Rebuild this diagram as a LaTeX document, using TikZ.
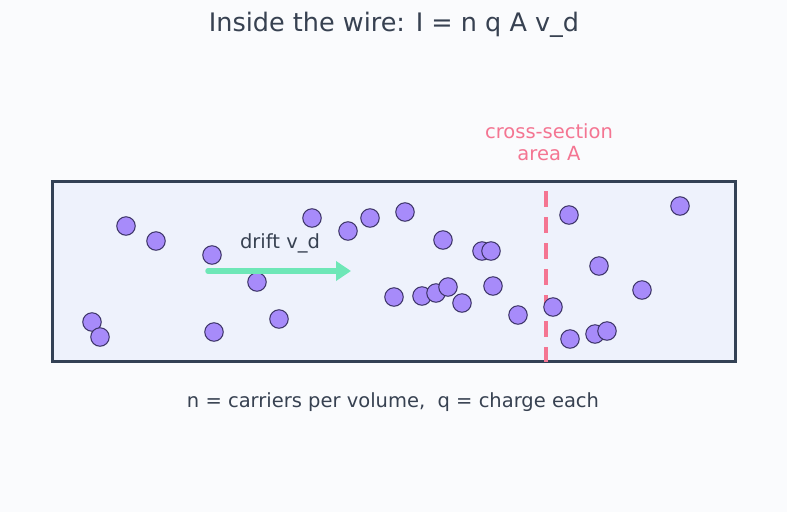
\documentclass[tikz,border=0pt]{standalone}
\usepackage{fontspec}
\setmainfont{DejaVu Sans}
\usetikzlibrary{arrows.meta}
\definecolor{bgcol}{HTML}{FAFBFD}
\definecolor{wirefill}{HTML}{EEF2FC}
\definecolor{wireline}{HTML}{334155}
\definecolor{inkcol}{HTML}{374151}
\definecolor{carrierfill}{HTML}{A78BFA}
\definecolor{carrierline}{HTML}{3B3366}
\definecolor{driftcol}{HTML}{6EE7B7}
\definecolor{sectioncol}{HTML}{F47592}
\tikzset{
  carrier/.style={circle,draw=carrierline,fill=carrierfill,line width=1pt,minimum size=18.5pt,inner sep=0pt},
  label text/.style={text=inkcol,font=\fontsize{19.5}{23}\selectfont}
}
\begin{document}
\begin{tikzpicture}[x=1pt,y=-1pt]
\useasboundingbox[fill=bgcol] (0,0) rectangle (787,512);
\node[text=inkcol,font=\fontsize{25.5}{30}\selectfont] (title) at (394,25) {Inside the wire: I = n q A v\_d};
% the wire
\draw[draw=wireline,fill=wirefill,line width=3.5pt] (52.5,181.5) rectangle (735.5,361.5);
% charge carriers
\foreach \cx/\cy [count=\i] in {126/226,156/241,212/255,257/282,92/322,100/337,214/332,279/319,
    312/218,348/231,370/218,405/212,443/240,482/251,491/251,394/297,422/296,436/293,448/287,
    462/303,493/286,518/315,569/215,599/266,570/339,595/334,607/331,642/290,680/206}
  \node[carrier] (c\i) at (\cx,\cy) {};
% drift velocity
\coordinate (drifttail) at (208,271);
\coordinate (drifthead) at (351,271);
\draw[driftcol,line width=5.5pt,line cap=round,-{Triangle[length=15pt,width=19pt]}] (drifttail) -- (drifthead);
\node[label text] (driftlabel) at (280,243) {drift v\_d};
% cross-section
\coordinate (sectop) at (546,181);
\coordinate (secbot) at (546,362);
\draw[sectioncol,line width=4.5pt,dash pattern=on 16pt off 10pt,dash phase=16pt] (sectop) -- (secbot);
\node[carrier] (c31) at (553,307) {};
\node[text=sectioncol,font=\fontsize{19.5}{22}\selectfont,align=center] (seclabel) at (549,142) {cross-section\\area A};
\node[label text] (legend) at (393,402) {n = carriers per volume,\ \ q = charge each};
\end{tikzpicture}
\end{document}
